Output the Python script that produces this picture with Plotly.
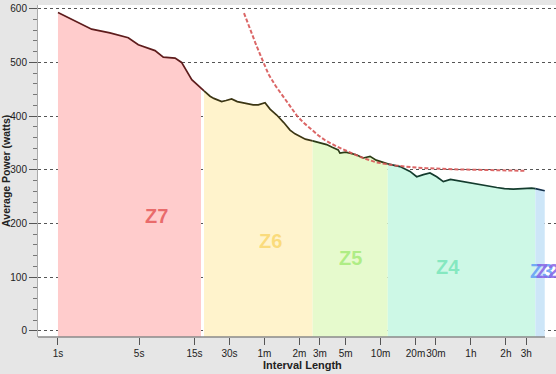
import math
import plotly.graph_objects as go

# ---- data ----
durations = [1, 1.95, 2.8, 4.03, 4.92, 6.85, 8.07, 10.2, 11.6, 13, 14.2, 16.7, 17.05,
             18.1, 20.4, 22, 25.7, 28, 31.3, 35, 40, 43.6, 48, 53.1, 60.7, 67, 76.5, 88,
             99.6, 110, 121, 135, 156, 180, 206, 230, 259, 268, 300, 327, 370, 426, 487,
             550, 620, 692, 780, 883, 1076, 1229, 1402, 1599, 1828, 2083, 2400, 2716,
             3000, 3311, 3700, 4315, 5000, 6010, 7000, 8350, 10000, 12000, 12910, 14500, 15560]
watts = [593, 562, 555, 546, 533, 522, 510, 508, 500, 482, 468, 454, 452,
         447, 437, 433, 427, 429, 432, 427, 424, 423, 421, 421, 425, 413, 402, 388,
         374, 367, 362, 357, 354, 350, 347, 342, 337, 331, 333, 331, 328, 322, 325,
         318, 314, 311, 309, 306, 297, 287, 291, 294, 287, 278, 282, 280,
         277, 276, 275, 272, 269, 267, 265, 264, 265, 266, 265, 263, 261]

cp_durations = [40, 45, 50, 55, 58.7, 65, 75, 90, 100, 114, 130, 150, 175, 200, 248, 300,
                400, 548, 800, 1100, 1479, 2500, 3986, 6500, 10720]
cp_watts = [592, 562, 537, 515, 500, 478, 456, 433, 419, 401, 388, 376, 364, 355, 344, 336,
            324, 314, 308, 305, 303, 301, 300, 299, 298]

zone_names = ["Z7", "Z6", "Z5", "Z4", "Z2"]
zone_start = [1, 18.1, 156, 692, 12910]
zone_end = [17.05, 156, 692, 12910, 15560]
zone_fill = ["#ffcccc", "#fff3cc", "#e6facd", "#cdf8e6", "#cde6f8"]
zone_line = ["#5e1c1c", "#3c3614", "#2c3c16", "#143c2e", "#14304a"]

label_text = ["Z7", "Z6", "Z5", "Z4", "Z3", "Z2"]
label_t = [7.0, 68, 330, 2300, 14450, 16300]
label_w = [214, 168, 136, 119, 112, 112]
label_color = ["rgba(230,90,90,0.85)", "rgba(250,215,110,0.85)", "rgba(165,235,120,0.85)",
               "rgba(120,230,185,0.85)", "rgba(100,160,245,0.9)", "rgba(140,105,230,0.9)"]

tick_vals = [1, 5, 15, 30, 60, 120, 180, 300, 600, 1200, 1800, 3600, 7200, 10800]
tick_text = ["1s", "5s", "15s", "30s", "1m", "2m", "3m", "5m", "10m", "20m", "30m", "1h", "2h", "3h"]

fig = go.Figure()

# zone fills
for i in range(len(zone_names)):
    seg = [(t, w) for t, w in zip(durations, watts) if zone_start[i] <= t <= zone_end[i]]
    xs = [s[0] for s in seg]
    ys = [s[1] for s in seg]
    fig.add_trace(go.Scatter(
        x=xs + xs[::-1], y=ys + [-30] * len(ys), fill="toself",
        fillcolor=zone_fill[i], line=dict(width=0), mode="lines",
        hoverinfo="skip", showlegend=False))

# curve segments
for i in range(len(zone_names)):
    lo = zone_start[i]
    hi = zone_start[i + 1] if i + 1 < len(zone_names) else zone_end[i]
    seg = [(t, w) for t, w in zip(durations, watts) if lo <= t <= hi]
    fig.add_trace(go.Scatter(
        x=[s[0] for s in seg], y=[s[1] for s in seg], mode="lines",
        line=dict(color=zone_line[i], width=1.7), showlegend=False))

# CP model curve
fig.add_trace(go.Scatter(
    x=cp_durations, y=cp_watts, mode="lines",
    line=dict(color="rgba(215,85,85,0.9)", width=2, dash="4px,2px"),
    showlegend=False))

for txt, t, w, c in zip(label_text, label_t, label_w, label_color):
    fig.add_annotation(x=math.log10(t), y=w, xref="x", yref="y", text="<b>%s</b>" % txt,
                       showarrow=False, font=dict(size=20, color=c, family="Liberation Sans"))

fig.add_annotation(xref="paper", yref="paper", x=-0.062, y=0.5, text="<b>Average Power (watts)</b>",
                   textangle=-90, showarrow=False, xanchor="center", yanchor="middle",
                   font=dict(size=10.5, color="#222", family="Liberation Sans"))
fig.add_annotation(xref="paper", yref="paper", x=(302 - 38) / 518, y=-28 / 332,
                   text="<b>Interval Length</b>", showarrow=False,
                   xanchor="center", yanchor="middle",
                   font=dict(size=11, color="#222", family="Liberation Sans"))

# x axis base line
fig.add_shape(type="line", xref="paper", yref="paper", x0=0, x1=(545 - 38) / 518, y0=0, y1=0,
              line=dict(color="#8a8a8a", width=1.5))

fig.update_layout(
    width=556, height=374,
    margin=dict(l=38, r=0, t=5, b=37),
    paper_bgcolor="#e6e6e6", plot_bgcolor="white",
    font=dict(family="Liberation Sans", size=10, color="#222"),
    xaxis=dict(type="log", range=[-0.172, 4.289], tickvals=tick_vals, ticktext=tick_text,
               tickangle=0, automargin=False,
               ticks="outside", ticklen=7, tickcolor="#555", showgrid=False, zeroline=False,
               showline=False),
    yaxis=dict(range=[-11.5, 607], tickvals=[0, 100, 200, 300, 400, 500, 600],
               automargin=False,
               ticks="outside", ticklen=8, tickcolor="#555",
               minor=dict(ticks="outside", ticklen=4, dtick=20, tickcolor="#777", showgrid=False),
               showgrid=True, gridcolor="#555", griddash="dot", gridwidth=1,
               zeroline=False, showline=True, linecolor="#aaa", linewidth=1),
)

fig.write_html("out.html", config={"displayModeBar": False},
               post_script="document.body.style.margin='0';document.body.style.overflow='hidden';")
